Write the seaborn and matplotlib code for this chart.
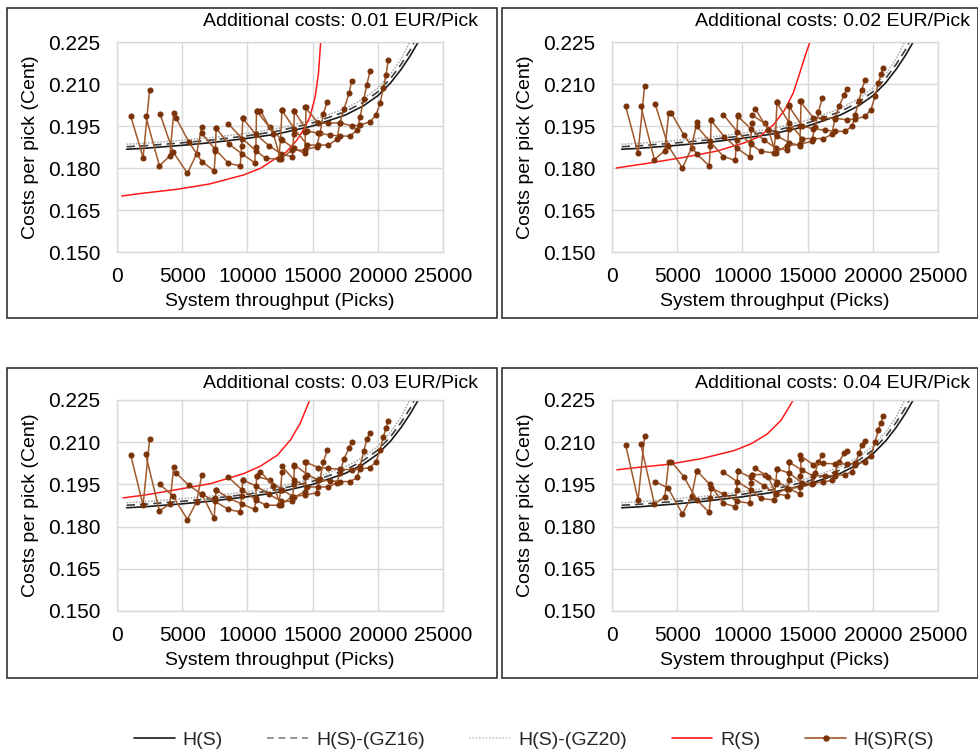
import numpy as np
import pandas as pd
import matplotlib
matplotlib.use("Agg")
import matplotlib.pyplot as plt
from matplotlib.lines import Line2D
from matplotlib.patches import Rectangle
import seaborn as sns

# ---------------- data ----------------
panel_titles = ["Additional costs: 0.01 EUR/Pick", "Additional costs: 0.02 EUR/Pick",
                "Additional costs: 0.03 EUR/Pick", "Additional costs: 0.04 EUR/Pick"]
x_ticks = [0, 5000, 10000, 15000, 20000, 25000]
y_ticks = [0.150, 0.165, 0.180, 0.195, 0.210, 0.225]

# H(S) family (same in all panels)
h_x = [740, 2000, 5000, 7100, 10000, 12250, 15000, 17500, 18900, 20000, 21000, 21800, 22500, 23100]
h_y = [.1867, .1870, .1881, .1890, .1906, .1921, .1950, .1989, .2022, .2058, .2105, .2153, .2202, .2250]
gz16_x = [740, 2000, 5000, 7100, 10000, 12250, 15000, 17500, 18900, 20000, 21000, 21800, 22500, 22800]
gz16_y = [.1876, .1879, .1890, .1899, .1915, .1931, .1961, .2001, .2035, .2072, .2121, .2171, .2222, .2250]
gz20_x = [740, 2000, 5000, 7100, 10000, 12250, 15000, 17500, 18900, 20000, 21000, 21800, 22450]
gz20_y = [.1885, .1888, .1899, .1908, .1924, .1940, .1971, .2012, .2047, .2086, .2137, .2190, .2250]

# R(S) per panel
r_x = [
    [360, 2000, 4600, 7100, 9700, 11000, 12200, 13000, 13800, 14300, 14800, 15200, 15450, 15620],
    [330, 2900, 5500, 8000, 10100, 11350, 12400, 13250, 13900, 14400, 14800, 15180],
    [460, 2100, 4650, 7200, 9750, 11000, 12300, 13300, 14050, 14570, 14780],
    [380, 1700, 4250, 6800, 9350, 10650, 11900, 12950, 13570, 13900],
]
r_y = [
    [.1700, .1710, .1724, .1743, .1775, .1799, .1835, .1858, .1900, .1936, .1983, .2055, .2138, .2250],
    [.1800, .1818, .1838, .1860, .1889, .1913, .1955, .2008, .2068, .2139, .2199, .2250],
    [.1902, .1912, .1932, .1953, .1989, .2015, .2054, .2108, .2167, .2226, .2250],
    [.2002, .2009, .2021, .2041, .2070, .2094, .2129, .2177, .2224, .2250],
]

# H(S)R(S): chains of configurations (throughput shared by all panels)
hsrs_x = [
    [1050, 2000, 2500],
    [2200, 3250, 4050, 4350],
    [3300, 4300, 5400, 6100, 6500],
    [4550, 5500, 6500, 7450, 7550, 7600],
    [6500, 7500, 8550, 9450, 9550, 9650],
    [7600, 8600, 9600, 10550, 10650, 10700],
    [8550, 9600, 10650, 11400, 12400, 12550, 12650],
    [9650, 10650, 11650, 12600, 13450, 13550, 13600],
    [10700, 11700, 12650, 13600, 14400, 14450, 14500],
    [11000, 12000, 12550, 13400, 14400, 15300, 15570, 15825, 16130],
    [12630, 13600, 14600, 15440, 16210, 16850, 17100, 17400, 17800, 18000],
    [13575, 14600, 15440, 16340, 17100, 17870, 18430, 18640, 18940, 19150, 19400],
    [14420, 15440, 16210, 17100, 18000, 18640, 19400, 19860, 20170, 20430, 20630, 20810],
]
hsrs_y_p1 = [
    [.1986, .1837, .2080],
    [.1986, .1808, .1843, .1998],
    [.1993, .1858, .1781, .1850, .1947],
    [.1977, .1894, .1823, .1790, .1861, .1942],
    [.1924, .1868, .1817, .1807, .1880, .1977],
    [.1942, .1885, .1850, .1819, .1874, .2004],
    [.1957, .1905, .1862, .1835, .1831, .1905, .2007],
    [.1977, .1920, .1880, .1850, .1840, .1920, .2004],
    [.2004, .1945, .1900, .1870, .1852, .1930, .2017],
    [.2005, .1920, .1831, .1864, .1864, .1876, .1924, .1994, .2037],
    [.2007, .1940, .1882, .1882, .1882, .1902, .1962, .2010, .2067, .2112],
    [.2004, .1932, .1924, .1918, .1914, .1914, .1936, .1983, .2048, .2096, .2145],
    [.2017, .1960, .1960, .1962, .1950, .1953, .1965, .1989, .2031, .2085, .2133, .2186],
]
hsrs_y_p2 = [
    [.2020, .1854, .2094],
    [.2023, .1830, .1862, .1996],
    [.2030, .1880, .1800, .1871, .1963],
    [.1996, .1919, .1850, .1808, .1880, .1970],
    [.1949, .1895, .1841, .1827, .1900, .1990],
    [.1970, .1912, .1870, .1839, .1890, .1961],
    [.1990, .1930, .1885, .1860, .1854, .1925, .2035],
    [.1985, .1940, .1900, .1870, .1865, .1940, .2025],
    [.1990, .1960, .1915, .1890, .1880, .1950, .2038],
    [.2010, .1935, .1854, .1880, .1885, .1895, .1945, .2000, .2050],
    [.2035, .1960, .1905, .1905, .1905, .1920, .1975, .2020, .2060, .2082],
    [.2020, .1950, .1940, .1935, .1931, .1931, .1950, .1990, .2040, .2080, .2113],
    [.2038, .1980, .1978, .1978, .1972, .1975, .1984, .2008, .2056, .2103, .2135, .2157],
]
hsrs_y_p3 = [
    [.2054, .1876, .2110],
    [.2057, .1856, .1880, .2013],
    [.1950, .1908, .1825, .1888, .1983],
    [.1990, .1947, .1915, .1829, .1903, .1930],
    [.1915, .1890, .1861, .1852, .1910, .1965],
    [.1930, .1900, .1880, .1861, .1900, .1979],
    [.1975, .1930, .1895, .1876, .1876, .1930, .1995],
    [.1965, .1945, .1915, .1890, .1890, .1950, .2015],
    [.1979, .1965, .1930, .1905, .1924, .1975, .2030],
    [.1995, .1945, .1876, .1906, .1912, .1920, .1970, .2030, .2072],
    [.2015, .1965, .1941, .1941, .1941, .1955, .1990, .2040, .2080, .2102],
    [.2020, .1985, .1965, .1963, .1960, .1960, .1975, .2015, .2070, .2110, .2134],
    [.2030, .2010, .2007, .2004, .2002, .2004, .2010, .2031, .2072, .2120, .2150, .2176],
]
hsrs_y_p4 = [
    [.2090, .1895, .2123],
    [.2094, .1881, .1905, .2031],
    [.1960, .1937, .1845, .1907, .1999],
    [.2031, .1978, .1895, .1851, .1900, .1937],
    [.1999, .1950, .1883, .1871, .1930, .1997],
    [.1937, .1915, .1890, .1883, .1954, .1985],
    [.1993, .1960, .1930, .1900, .1895, .1950, .2005],
    [.1997, .1975, .1945, .1916, .1910, .1965, .2029],
    [.1985, .1985, .1960, .1935, .1916, .1980, .2040],
    [.2007, .1976, .1916, .1935, .1940, .1950, .1990, .2030, .2053],
    [.2005, .1990, .1955, .1955, .1958, .1965, .1990, .2030, .2060, .2070],
    [.2029, .2000, .1980, .1981, .1981, .1985, .1995, .2020, .2060, .2090, .2106],
    [.2053, .2020, .2025, .2023, .2023, .2025, .2029, .2052, .2100, .2144, .2170, .2194],
]
hsrs_y = [hsrs_y_p1, hsrs_y_p2, hsrs_y_p3, hsrs_y_p4]

legend_labels = ["H(S)", "H(S)-(GZ16)", "H(S)-(GZ20)", "R(S)", "H(S)R(S)"]

# ---------------- style ----------------
sns.set_theme(style="whitegrid")
plt.rcParams['font.family'] = ['Liberation Sans', 'DejaVu Sans']
FS_TICK = 15
FS_LAB = 14
C_H = "#1a1a1a"
C_GZ16 = "#404040"
C_GZ20 = "#a6a6a6"
C_R = "#ff1a1a"
C_BR = "#a0582a"
C_BRM = "#7a3208"

fig = plt.figure(figsize=(9.79, 7.5), dpi=100)
W, H = 979, 750
axes_px = [(117, 42, 443, 252), (612, 42, 938, 252), (117, 400, 443, 611), (612, 400, 938, 611)]
frames_px = [(7, 8, 497, 318), (502, 8, 978, 318), (7, 368, 497, 678), (502, 368, 978, 678)]
title_pos = [(478, 22), (970, 22), (478, 384), (970, 384)]

for i in range(4):
    l, t, r, b = axes_px[i]
    ax = fig.add_axes([l / W, 1 - b / H, (r - l) / W, (b - t) / H])

    df_h = pd.DataFrame({"x": h_x, "y": h_y})
    df_16 = pd.DataFrame({"x": gz16_x, "y": gz16_y})
    df_20 = pd.DataFrame({"x": gz20_x, "y": gz20_y})
    df_r = pd.DataFrame({"x": r_x[i], "y": r_y[i]})
    rows = []
    for k, (cx, cy) in enumerate(zip(hsrs_x, hsrs_y[i])):
        for xx, yy in zip(cx, cy):
            rows.append((k, xx, yy))
    df_b = pd.DataFrame(rows, columns=["chain", "x", "y"])

    sns.lineplot(data=df_20, x="x", y="y", ax=ax, color=C_GZ20, lw=1.1, linestyle=(0, (1, 1)), sort=False)
    sns.lineplot(data=df_h, x="x", y="y", ax=ax, color=C_H, lw=1.2, sort=False)
    sns.lineplot(data=df_16, x="x", y="y", ax=ax, color=C_GZ16, lw=1.2, linestyle=(0, (5, 3)), sort=False)
    sns.lineplot(data=df_r, x="x", y="y", ax=ax, color=C_R, lw=1.1, sort=False)
    sns.lineplot(data=df_b, x="x", y="y", units="chain", estimator=None, ax=ax, color=C_BR, lw=1.1,
                 sort=False, marker="o", markersize=3.6, markerfacecolor=C_BRM, markeredgecolor=C_BRM)

    ax.set_xlim(0, 25000)
    ax.set_ylim(0.150, 0.225)
    ax.set_xticks(x_ticks)
    ax.set_yticks(y_ticks)
    ax.set_xticklabels([str(v) for v in x_ticks])
    ax.set_yticklabels([f"{v:.3f}" for v in y_ticks])
    ax.tick_params(axis="both", length=0, labelsize=FS_TICK, colors="black")
    ax.tick_params(axis="y", pad=12)
    ax.tick_params(axis="x", pad=11)
    ax.grid(True, color="#d9d9d9", lw=1)
    for s in ax.spines.values():
        s.set_visible(True)
        s.set_color("#d9d9d9")
        s.set_linewidth(1)
    ax.set_facecolor("white")
    ax.set_xlabel("System throughput (Picks)", fontsize=FS_LAB, labelpad=5, color="black")
    ax.set_ylabel("Costs per pick (Cent)", fontsize=FS_LAB, labelpad=6, color="black")
    if ax.get_legend():
        ax.get_legend().remove()

    tx, ty = title_pos[i]
    fig.text(tx / W, 1 - ty / H, panel_titles[i], ha="right", va="center", fontsize=FS_LAB, color="black")

    fl, ft, fr, fb = frames_px[i]
    fig.add_artist(Rectangle((fl / W, 1 - fb / H), (fr - fl) / W, (fb - ft) / H,
                             transform=fig.transFigure, fill=False, edgecolor="#222222", lw=1.1))

handles = [
    Line2D([], [], color=C_H, lw=1.2),
    Line2D([], [], color="#808080", lw=1.2, linestyle=(0, (4, 3))),
    Line2D([], [], color="#c8c8c8", lw=1.2, linestyle=(0, (1, 1))),
    Line2D([], [], color=C_R, lw=1.2),
    Line2D([], [], color=C_BR, lw=1.2, marker="o", markersize=3.6, markerfacecolor=C_BRM, markeredgecolor=C_BRM),
]
fig.legend(handles, legend_labels, loc="center", bbox_to_anchor=(534 / W, 1 - 740 / H), ncol=5,
           frameon=False, fontsize=FS_LAB, handlelength=2.1, columnspacing=2.3, handletextpad=0.4)

fig.savefig("out.png", dpi=100, facecolor="white")
